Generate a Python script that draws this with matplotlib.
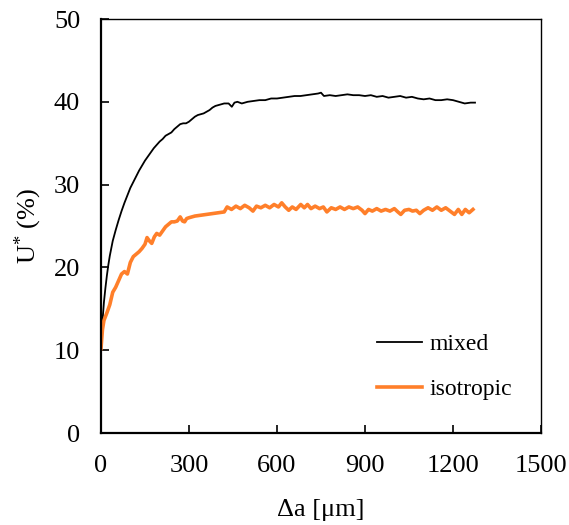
import matplotlib
matplotlib.use("Agg")
import matplotlib.pyplot as plt

plt.rcParams['font.family'] = ['Liberation Serif', 'DejaVu Serif']
plt.rcParams['mathtext.fontset'] = 'custom'
plt.rcParams['mathtext.rm'] = 'Liberation Serif'
plt.rcParams['mathtext.default'] = 'regular'

mixed_x = [0, 5, 10, 15, 20, 25, 30, 40, 50, 60, 70, 80, 90, 100, 110, 120, 130, 140, 150,
           160, 170, 180, 190, 200, 210, 220, 230, 240, 250, 260, 270, 280, 290, 300, 310,
           320, 330, 340, 350, 360, 370, 380, 390, 400, 410, 420, 435, 446, 455, 465, 480,
           490, 500, 520, 540, 560, 580, 600, 620, 640, 660, 680, 700, 720, 740, 750, 760,
           780, 800, 820, 840, 860, 880, 900, 920, 940, 960, 980, 1000, 1020, 1040, 1060,
           1080, 1100, 1120, 1140, 1160, 1180, 1200, 1220, 1240, 1260, 1275]
mixed_y = [10.0, 13.5, 15.8, 17.5, 19.0, 20.3, 21.4, 23.2, 24.5, 25.7, 26.8, 27.8, 28.7, 29.6,
           30.3, 31.0, 31.7, 32.3, 32.9, 33.4, 33.9, 34.4, 34.8, 35.2, 35.5, 35.9, 36.1, 36.3,
           36.7, 37.0, 37.3, 37.4, 37.4, 37.6, 37.9, 38.2, 38.4, 38.5, 38.6, 38.8, 39.0, 39.3,
           39.5, 39.6, 39.7, 39.8, 39.8, 39.4, 39.9, 40.0, 39.8, 39.9, 40.0, 40.1, 40.2, 40.2,
           40.4, 40.4, 40.5, 40.6, 40.7, 40.7, 40.8, 40.9, 41.0, 41.1, 40.7, 40.8, 40.7, 40.8,
           40.9, 40.8, 40.8, 40.7, 40.8, 40.6, 40.7, 40.5, 40.6, 40.7, 40.5, 40.6, 40.4, 40.3,
           40.4, 40.2, 40.2, 40.3, 40.2, 40.0, 39.8, 39.9, 39.9]

iso_x = [0, 5, 10, 20, 30, 40, 50, 60, 70, 80, 90, 100, 110, 120, 130, 140, 150, 157, 165,
         173, 182, 190, 200, 210, 220, 230, 240, 250, 260, 270, 278, 285, 292, 300, 320, 340,
         360, 380, 400, 420, 430, 445, 460, 475, 490, 505, 518, 530, 545, 560, 575, 590, 605,
         616, 628, 640, 652, 665, 681, 693, 704, 716, 730, 745, 758, 770, 785, 800, 815, 830,
         845, 860, 875, 890, 900, 912, 925, 940, 955, 970, 985, 1000, 1012, 1022, 1035, 1050,
         1062, 1075, 1087, 1100, 1115, 1130, 1145, 1160, 1175, 1190, 1205, 1218, 1230, 1242,
         1255, 1268]
iso_y = [10.2, 12.5, 13.6, 14.5, 15.5, 17.0, 17.6, 18.4, 19.2, 19.5, 19.2, 20.6, 21.3, 21.6,
         21.9, 22.3, 22.8, 23.6, 23.2, 22.9, 23.7, 24.1, 23.9, 24.4, 24.9, 25.2, 25.5, 25.5,
         25.6, 26.1, 25.6, 25.5, 25.9, 26.0, 26.2, 26.3, 26.4, 26.5, 26.6, 26.7, 27.3, 27.0,
         27.4, 27.1, 27.5, 27.2, 26.8, 27.4, 27.2, 27.5, 27.2, 27.6, 27.3, 27.8, 27.3, 26.9,
         27.3, 27.0, 27.6, 27.2, 27.6, 27.1, 27.4, 27.1, 27.3, 26.7, 27.2, 27.0, 27.3, 27.0,
         27.3, 27.1, 27.3, 26.9, 26.5, 27.0, 26.8, 27.1, 26.8, 27.0, 26.8, 27.1, 26.7, 26.4,
         26.9, 27.0, 26.8, 26.9, 26.5, 26.9, 27.2, 26.9, 27.3, 26.9, 27.2, 26.8, 26.4, 27.0,
         26.4, 27.0, 26.6, 27.0]

x_ticks = [0, 300, 600, 900, 1200, 1500]
y_ticks = [0, 10, 20, 30, 40, 50]

fig = plt.figure(figsize=(5.69, 5.25), dpi=100)
ax = fig.add_axes([101/569, 1 - 433/525, 440/569, 414/525])

ax.plot(mixed_x, mixed_y, color='black', lw=1.3, label='mixed')
ax.plot(iso_x, iso_y, color='#ff7f2a', lw=2.6, label='isotropic')

ax.set_xlim(0, 1500)
ax.set_ylim(0, 50)
ax.set_xticks(x_ticks)
ax.set_yticks(y_ticks)
ax.tick_params(direction='in', length=6, width=1.2, labelsize=19, colors='black')
ax.tick_params(axis='x', pad=16)
ax.tick_params(axis='y', pad=15)
for s in ['left', 'bottom']:
    ax.spines[s].set_linewidth(1.6)
for s in ['top', 'right']:
    ax.spines[s].set_linewidth(1.0)

ax.set_xlabel('Δa [μm]', fontsize=19, labelpad=16)
ax.set_ylabel('U$^{*}$ (%)', fontsize=19)
ax.yaxis.set_label_coords(-0.13, 0.5)

leg = ax.legend(loc='upper left', bbox_to_anchor=(0.628, 0.24), frameon=False,
                fontsize=17, handlelength=1.9, handletextpad=0.3, labelspacing=1.0,
                borderpad=0, borderaxespad=0)

fig.savefig('out.png', dpi=100)
